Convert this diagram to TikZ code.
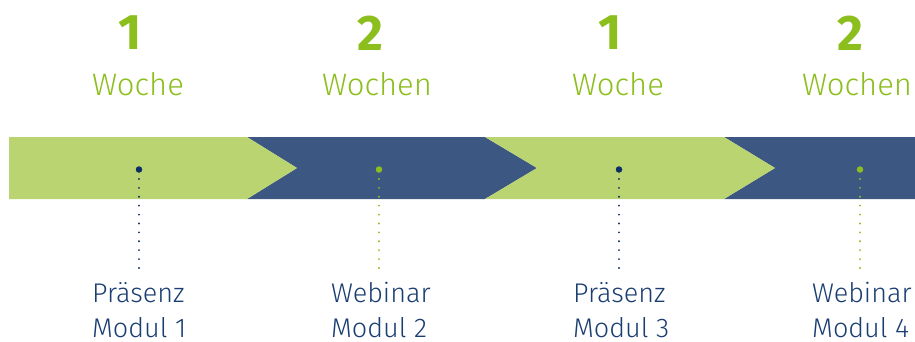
\documentclass[tikz,border=0pt]{standalone}
\usepackage{fontspec}
\setmainfont{Fira Sans}
\newfontfamily\lightfont{Fira Sans Light}
\definecolor{bandgreen}{HTML}{BBD472}
\definecolor{bandblue}{HTML}{3D5783}
\definecolor{txtgreen}{HTML}{8CBE1E}
\definecolor{txtblue}{HTML}{1A3D72}
\definecolor{dotblue}{HTML}{0A2D64}

\begin{document}
\begin{tikzpicture}[x=1pt, y=-1pt,
  num/.style={text=txtgreen, inner sep=0pt, font=\fontsize{50}{50}\selectfont\bfseries},
  weeks/.style={text=txtgreen, inner sep=0pt, anchor=base, font=\lightfont\fontsize{31}{31}\selectfont},
  modul/.style={text=txtblue, inner sep=0pt, anchor=base west, align=left, text depth=0pt, font=\lightfont\fontsize{27}{35}\selectfont},
  bigdot/.style={circle, fill=#1, inner sep=0pt, minimum size=6.5pt},
  dotline/.style={#1, line width=2pt, line cap=round, dash pattern=on 0.1pt off 8.8pt}]
  \useasboundingbox (0,0) rectangle (915,341);

  % band
  \fill[bandblue] (247,137) -- (485,137) -- (537,168) -- (485,199) -- (247,199) -- (297,168) -- cycle;
  \fill[bandblue] (724,137) -- (915,137) -- (915,199) -- (724,199) -- (775,168) -- cycle;
  \fill[bandgreen] (9,137) -- (247,137) -- (297,168) -- (247,199) -- (9,199) -- cycle;
  \fill[bandgreen] (485,137) -- (724,137) -- (775,168) -- (724,199) -- (485,199) -- (537,168) -- cycle;

  % top labels
  \node[num] (n1) at (130,33) {1};
  \node[num] (n2) at (370,33) {2};
  \node[num] (n3) at (610,33) {1};
  \node[num] (n4) at (850,33) {2};
  \node[weeks] (w1) at (138,95) {Woche};
  \node[weeks] (w2) at (377,95) {Wochen};
  \node[weeks] (w3) at (618,95) {Woche};
  \node[weeks] (w4) at (857,95) {Wochen};

  % markers
  \node[bigdot=dotblue] (d1) at (139,169.5) {};
  \node[bigdot=txtgreen] (d2) at (379,169.5) {};
  \node[bigdot=dotblue] (d3) at (619,169.5) {};
  \node[bigdot=txtgreen] (d4) at (860,169.5) {};
  \coordinate (e1) at (139,268);
  \coordinate (e2) at (379,268);
  \coordinate (e3) at (619,268);
  \coordinate (e4) at (860,268);
  \draw[dotline=dotblue] (e1) -- (d1);
  \draw[dotline=txtgreen] (e2) -- (d2);
  \draw[dotline=dotblue] (e3) -- (d3);
  \draw[dotline=txtgreen] (e4) -- (d4);

  % bottom labels
  \node[modul] (m1) at (92,337) {Präsenz\\Modul 1};
  \node[modul] (m2) at (331,337) {Webinar\\Modul 2};
  \node[modul] (m3) at (573,337) {Präsenz\\Modul 3};
  \node[modul] (m4) at (812,337) {Webinar\\Modul 4};
\end{tikzpicture}
\end{document}
